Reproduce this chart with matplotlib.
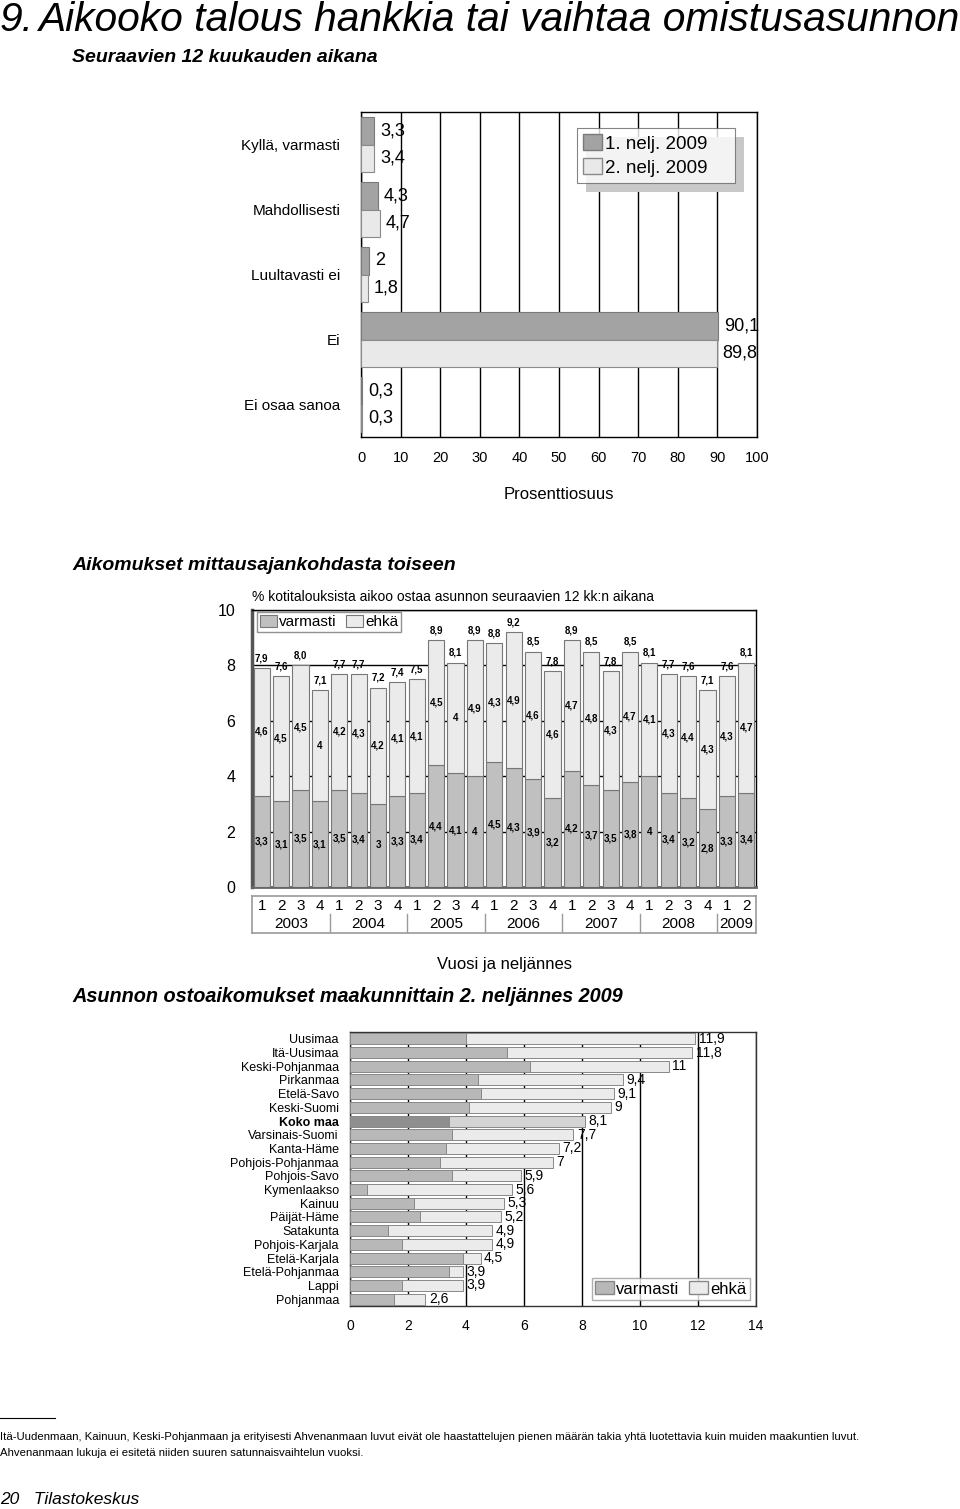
import matplotlib
matplotlib.use('Agg')
import matplotlib.pyplot as plt
from matplotlib.patches import Patch, Rectangle
import numpy as np

W, H = 960, 1509
ARIAL = ['Liberation Sans', 'DejaVu Sans']

# --- data: top chart (survey answers, 2009 Q1 vs Q2)
top_cats = ['Kyllä, varmasti', 'Mahdollisesti', 'Luultavasti ei', 'Ei', 'Ei osaa sanoa']
q1_2009 = [3.3, 4.3, 2, 90.1, 0.3]
q2_2009 = [3.4, 4.7, 1.8, 89.8, 0.3]
top_series = ['1. nelj. 2009', '2. nelj. 2009']

# --- data: middle chart (quarters 2003Q1 .. 2009Q2)
varmasti = [3.3, 3.1, 3.5, 3.1, 3.5, 3.4, 3.0, 3.3, 3.4, 4.4, 4.1, 4.0, 4.5,
            4.3, 3.9, 3.2, 4.2, 3.7, 3.5, 3.8, 4.0, 3.4, 3.2, 2.8, 3.3, 3.4]
ehka = [4.6, 4.5, 4.5, 4.0, 4.2, 4.3, 4.2, 4.1, 4.1, 4.5, 4.0, 4.9, 4.3,
        4.9, 4.6, 4.6, 4.7, 4.8, 4.3, 4.7, 4.1, 4.3, 4.4, 4.3, 4.3, 4.7]
years = ['2003', '2004', '2005', '2006', '2007', '2008', '2009']
quarters_per_year = [4, 4, 4, 4, 4, 4, 2]

# --- data: bottom chart (regions, 2009 Q2)
regions = ['Uusimaa', 'Itä-Uusimaa', 'Keski-Pohjanmaa', 'Pirkanmaa', 'Etelä-Savo',
           'Keski-Suomi', 'Koko maa', 'Varsinais-Suomi', 'Kanta-Häme',
           'Pohjois-Pohjanmaa', 'Pohjois-Savo', 'Kymenlaakso', 'Kainuu',
           'Päijät-Häme', 'Satakunta', 'Pohjois-Karjala', 'Etelä-Karjala',
           'Etelä-Pohjanmaa', 'Lappi', 'Pohjanmaa']
reg_total = [11.9, 11.8, 11, 9.4, 9.1, 9, 8.1, 7.7, 7.2, 7, 5.9, 5.6, 5.3, 5.2,
             4.9, 4.9, 4.5, 3.9, 3.9, 2.6]
reg_varmasti = [4.0, 5.4, 6.2, 4.4, 4.5, 4.1, 3.4, 3.5, 3.3, 3.1, 3.5, 0.6, 2.2,
                2.4, 1.3, 1.8, 3.9, 3.4, 1.8, 1.5]


def fi(v):
    return f"{v:g}".replace('.', ',')


plt.rcParams['font.family'] = ARIAL
fig = plt.figure(figsize=(W / 100, H / 100), dpi=100)


def axes_px(l, t, r, b):
    return fig.add_axes([l / W, 1 - b / H, (r - l) / W, (b - t) / H])


def ftext(x, y, s, **kw):
    fig.text(x / W, 1 - y / H, s, **kw)


# headings
ftext(0, 20, '9.', style='italic', fontsize=29.3, va='center')
ftext(38, 20, 'Aikooko talous hankkia tai vaihtaa omistusasunnon',
      style='italic', fontsize=29.3, va='center')
head = dict(style='italic', weight='bold', fontsize=14, va='center')
ftext(72, 57, 'Seuraavien 12 kuukauden aikana', **head)
ftext(72, 565, 'Aikomukset mittausajankohdasta toiseen', **head)
ftext(72, 997, 'Asunnon ostoaikomukset maakunnittain 2. neljännes 2009',
      **dict(head, fontsize=14.3))

# ---------------- top chart
ax = axes_px(361, 112, 757, 437)
y = np.arange(len(top_cats))
h = 0.42
ax.barh(y - h / 2, q1_2009, height=h, color='#a3a3a3', edgecolor='#7a7a7a', lw=0.8,
        label=top_series[0], zorder=3)
ax.barh(y + h / 2, q2_2009, height=h, color='#e9e9e9', edgecolor='#8a8a8a', lw=0.8,
        label=top_series[1], zorder=3)
for i in range(len(top_cats)):
    ax.text(q1_2009[i] + 1.5, y[i] - h / 2, fi(q1_2009[i]),
            fontsize=13, va='center', ha='left', zorder=6)
    ax.text(q2_2009[i] + 1.5, y[i] + h / 2, fi(q2_2009[i]),
            fontsize=13, va='center', ha='left', zorder=6)
ax.set_xlim(0, 100)
ax.set_ylim(len(top_cats) - 0.5, -0.5)
ax.set_xticks(np.arange(0, 101, 10))
ax.set_yticks(y)
ax.set_yticklabels(top_cats, fontsize=11)
ax.tick_params(axis='x', length=0, pad=10, labelsize=10.5)
ax.tick_params(axis='y', length=0, pad=15)
ax.xaxis.grid(True, color='black', lw=1)
ax.set_axisbelow(True)
for s in ax.spines.values():
    s.set_color('black')
    s.set_linewidth(1)
ax.set_xlabel('Prosenttiosuus', fontsize=12, labelpad=16)
handles = [Patch(facecolor='#a3a3a3', edgecolor='#7a7a7a'),
           Patch(facecolor='#e9e9e9', edgecolor='#8a8a8a')]
leg = ax.legend(handles, top_series, loc='upper left',
                bbox_to_anchor=(0.545, 0.5, 0.399, 0.451), mode='expand',
                prop={'size': 13.5}, frameon=True, fancybox=False,
                edgecolor='#666666', borderpad=0.35, labelspacing=0.3,
                handlelength=1.0, handleheight=0.9, handletextpad=0.15,
                borderaxespad=0)
leg.get_frame().set_linewidth(0.8)
leg.set_zorder(6)

# ---------------- middle chart
am = axes_px(252, 610, 756, 887)
x = np.arange(len(varmasti))
tot = [a + b for a, b in zip(varmasti, ehka)]
am.bar(x, varmasti, width=0.83, color='#c0c0c0', edgecolor='#777777', lw=0.8,
       label='varmasti', zorder=3)
am.bar(x, ehka, bottom=varmasti, width=0.83, color='#ebebeb', edgecolor='#777777',
       lw=0.8, label='ehkä', zorder=3)
lab = dict(weight='bold', fontsize=7, ha='center', va='center', zorder=5)
for i in x:
    am.text(i, varmasti[i] / 2, fi(varmasti[i]), **lab)
    am.text(i, varmasti[i] + ehka[i] / 2, fi(ehka[i]), **lab)
    am.text(i, tot[i] + 0.35, f"{tot[i]:.1f}".replace('.', ','), **lab)
am.set_xlim(-0.5, len(x) - 0.5)
am.set_ylim(0, 10)
am.set_yticks([0, 2, 4, 6, 8, 10])
am.set_xticks([])
am.tick_params(length=0, pad=12, labelsize=11.5)
am.yaxis.grid(True, color='black', lw=1)
am.set_axisbelow(True)
am.spines['left'].set_color('#555555')
am.spines['left'].set_linewidth(2.5)
am.spines['bottom'].set_color('#666666')
am.spines['bottom'].set_linewidth(2)
am.spines['top'].set_linewidth(1)
am.spines['right'].set_linewidth(1)
am.legend(loc='upper left', bbox_to_anchor=(0.01, 0.993), ncol=2,
          prop={'size': 11}, fancybox=False, edgecolor='#777777',
          borderpad=0.2, handlelength=1.1, handleheight=0.8, handletextpad=0.15,
          columnspacing=0.6, borderaxespad=0)
am.text(0, 1.048, '% kotitalouksista aikoo ostaa asunnon seuraavien 12 kk:n aikana',
        transform=am.transAxes, fontsize=10, va='center')

# quarter / year table under the middle chart
at = axes_px(252, 896, 756, 933)
at.set_xlim(-0.5, len(x) - 0.5)
at.set_ylim(0, 1)
at.set_xticks([])
at.set_yticks([])
for s in at.spines.values():
    s.set_color('#999999')
    s.set_linewidth(1.2)
qlabels = []
for n in quarters_per_year:
    qlabels += [str(k + 1) for k in range(n)]
tab = dict(fontsize=11, ha='center', va='center')
for i, q in enumerate(qlabels):
    at.text(i, 0.74, q, **tab)
start = 0
for yr, n in zip(years, quarters_per_year):
    at.text(start + (n - 1) / 2, 0.25, yr, **tab)
    start += n
    if start < len(qlabels):
        at.plot([start - 0.5, start - 0.5], [0, 0.52], color='#999999', lw=1)
ftext(505, 965, 'Vuosi ja neljännes', fontsize=12, ha='center', va='center')

# ---------------- bottom chart
ab = axes_px(350, 1032, 756, 1306)
yr_ = np.arange(len(regions))
reg_ehka = [t - v for t, v in zip(reg_total, reg_varmasti)]
col_v = ['#8f8f8f' if r == 'Koko maa' else '#b8b8b8' for r in regions]
col_e = ['#d4d4d4' if r == 'Koko maa' else '#ebebeb' for r in regions]
ab.barh(yr_, reg_varmasti, height=0.8, color=col_v, edgecolor='#888888', lw=0.7, zorder=3)
ab.barh(yr_, reg_ehka, left=reg_varmasti, height=0.8, color=col_e, edgecolor='#888888',
        lw=0.7, zorder=3)
for i in yr_:
    ab.text(reg_total[i] + 0.12, i, fi(reg_total[i]), fontsize=10,
            va='center', ha='left', zorder=5)
ab.set_xlim(0, 14)
ab.set_ylim(len(regions) - 0.5, -0.5)
ab.set_xticks(np.arange(0, 15, 2))
ab.set_yticks(yr_)
ab.set_yticklabels(regions, fontsize=9)
for t in ab.get_yticklabels():
    if t.get_text() == 'Koko maa':
        t.set_weight('bold')
ab.tick_params(axis='x', length=0, pad=9, labelsize=10)
ab.tick_params(axis='y', length=0, pad=8)
ab.xaxis.grid(True, color='black', lw=1)
ab.set_axisbelow(True)
for s in ab.spines.values():
    s.set_color('#333333')
    s.set_linewidth(1)
ab.legend([Patch(facecolor='#b8b8b8', edgecolor='#888888'),
           Patch(facecolor='#ebebeb', edgecolor='#888888')], ['varmasti', 'ehkä'],
          loc='lower right', bbox_to_anchor=(0.985, 0.022), ncol=2,
          prop={'size': 12}, fancybox=False, edgecolor='#999999',
          borderpad=0.2, handlelength=1.1, handleheight=0.8, handletextpad=0.15,
          columnspacing=0.6, borderaxespad=0)

# footer
fig.add_artist(plt.Line2D([0, 55 / W], [1 - 1418 / H, 1 - 1418 / H], color='black', lw=0.8))
ftext(0, 1437, 'Itä-Uudenmaan, Kainuun, Keski-Pohjanmaan ja erityisesti Ahvenanmaan luvut '
      'eivät ole haastattelujen pienen määrän takia yhtä luotettavia kuin muiden '
      'maakuntien luvut.', fontsize=8.2, va='center')
ftext(0, 1453, 'Ahvenanmaan lukuja ei esitetä niiden suuren satunnaisvaihtelun vuoksi.',
      fontsize=8.2, va='center')
ftext(0, 1500, '20   Tilastokeskus', style='italic', fontsize=12.5, va='center')

# shadow behind the top legend
fig.canvas.draw()
bb = leg.get_window_extent()
inv = ax.transAxes.inverted()
(x0, y0) = inv.transform((bb.x0 + 9, bb.y0 - 9))
(x1, y1) = inv.transform((bb.x1 + 9, bb.y1 - 9))
ax.add_patch(Rectangle((x0, y0), x1 - x0, y1 - y0, transform=ax.transAxes,
                       facecolor='#c8c8c8', edgecolor='none', zorder=5, clip_on=False))

fig.savefig('out.png', dpi=100)
